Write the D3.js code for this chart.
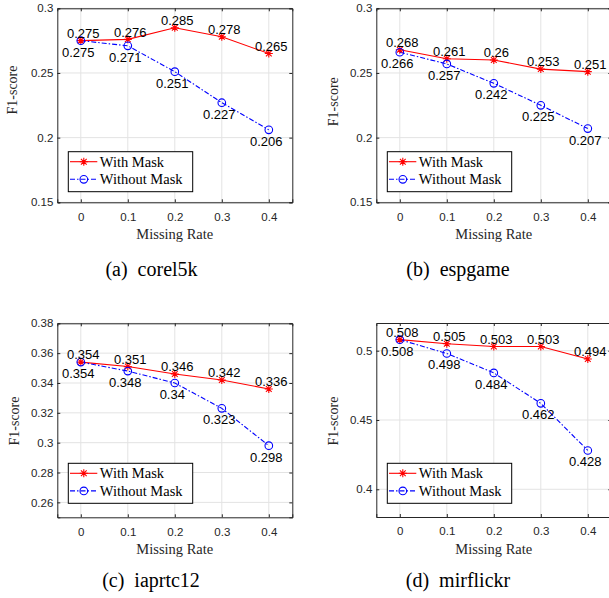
<!DOCTYPE html>
<html>
<head>
<meta charset="utf-8">
<script src="https://cdn.jsdelivr.net/npm/d3@7"></script>
<style>
  body { margin: 0; background: #fff; }
  .tick text { font-family: "Liberation Sans", Arial, sans-serif; font-size: 11.5px; fill: #262626; }
  .serif { font-family: "Liberation Serif", "Times New Roman", serif; fill: #262626; }
  .caption { font-family: "Liberation Serif", "Times New Roman", serif; font-size: 20px; fill: #000; }
  .vlabel { font-family: "Liberation Sans", Arial, sans-serif; font-size: 13px; fill: #000; }
</style>
</head>
<body>
<svg id="chart" width="609" height="598"></svg>
<script>
// data
const missingRate = [0, 0.1, 0.2, 0.3, 0.4];
const seriesNames = ['With Mask', 'Without Mask'];
const datasetNames = ['corel5k', 'espgame', 'iaprtc12', 'mirflickr'];
const panelTags = ['(a)', '(b)', '(c)', '(d)'];

const corel5kWith = [0.275, 0.276, 0.285, 0.278, 0.265];
const corel5kWithout = [0.275, 0.271, 0.251, 0.227, 0.206];
const espgameWith = [0.268, 0.261, 0.26, 0.253, 0.251];
const espgameWithout = [0.266, 0.257, 0.242, 0.225, 0.207];
const iaprtc12With = [0.354, 0.351, 0.346, 0.342, 0.336];
const iaprtc12Without = [0.354, 0.348, 0.34, 0.323, 0.298];
const mirflickrWith = [0.508, 0.505, 0.503, 0.503, 0.494];
const mirflickrWithout = [0.508, 0.498, 0.484, 0.462, 0.428];

const xDomain = [-0.05, 0.45];
const yDomains = [[0.15, 0.3], [0.15, 0.3], [0.25, 0.38], [0.38, 0.52]];
const yTickValues = [
  [0.15, 0.2, 0.25, 0.3],
  [0.15, 0.2, 0.25, 0.3],
  [0.26, 0.28, 0.3, 0.32, 0.34, 0.36, 0.38],
  [0.4, 0.45, 0.5],
];

const withMask = [corel5kWith, espgameWith, iaprtc12With, mirflickrWith];
const withoutMask = [corel5kWithout, espgameWithout, iaprtc12Without, mirflickrWithout];

// where each subplot sits on the page
const panels = [
  { left: 57.3, top: 8.3, ylabY: 90, ylabX: -40, legendTop: 151.7, capX: 151.5, capY: 276 },
  { left: 376.3, top: 8.3, ylabY: 101.7, ylabX: -38.5, legendTop: 151.7, capX: 458, capY: 276 },
  { left: 57.3, top: 323.3, ylabY: 421, ylabX: -38.5, legendTop: 463.3, capX: 151, capY: 587 },
  { left: 376.3, top: 323, ylabY: 421, ylabX: -38.5, legendTop: 463.3, capX: 458, capY: 587 },
];
const plotW = 235;
const plotH = 194;
const axisColor = '#262626';
const gridColor = '#e3e3e3';
const red = '#ff0000';
const blue = '#0000ff';

const svg = d3.select('#chart');

function asterisk(g, x, y, r, color) {
  const p = d3.path();
  const d = r * 0.72;
  p.moveTo(x - r, y); p.lineTo(x + r, y);
  p.moveTo(x, y - r); p.lineTo(x, y + r);
  p.moveTo(x - d, y - d); p.lineTo(x + d, y + d);
  p.moveTo(x - d, y + d); p.lineTo(x + d, y - d);
  g.append('path').attr('d', p.toString()).attr('stroke', color).attr('stroke-width', 1.1).attr('fill', 'none');
}

function circle(g, x, y, color) {
  g.append('circle').attr('cx', x).attr('cy', y).attr('r', 3.8)
    .attr('fill', 'none').attr('stroke', color).attr('stroke-width', 1.1);
}

function drawPanel(i) {
  const pos = panels[i];
  const x = d3.scaleLinear().domain(xDomain).range([0, plotW]);
  const y = d3.scaleLinear().domain(yDomains[i]).range([plotH, 0]);
  const g = svg.append('g').attr('transform', `translate(${pos.left},${pos.top})`);

  g.append('rect').attr('width', plotW).attr('height', plotH).attr('fill', '#fff');

  // grid
  g.append('g').selectAll('line').data(missingRate).enter().append('line')
    .attr('x1', d => x(d)).attr('x2', d => x(d)).attr('y1', 0).attr('y2', plotH)
    .attr('stroke', gridColor).attr('stroke-width', 1);
  g.append('g').selectAll('line').data(yTickValues[i]).enter().append('line')
    .attr('y1', d => y(d)).attr('y2', d => y(d)).attr('x1', 0).attr('x2', plotW)
    .attr('stroke', gridColor).attr('stroke-width', 1);

  // axes
  g.append('g').attr('transform', `translate(0,${plotH})`)
    .call(d3.axisBottom(x).tickValues(missingRate).tickFormat(d3.format('')).tickSize(-3).tickPadding(10.3));
  g.append('g')
    .call(d3.axisLeft(y).tickValues(yTickValues[i]).tickFormat(d => String(+d.toFixed(2))).tickSize(-3).tickPadding(4));
  g.append('g').call(d3.axisTop(x).tickValues(missingRate).tickFormat('').tickSize(-3));
  g.append('g').attr('transform', `translate(${plotW},0)`)
    .call(d3.axisRight(y).tickValues(yTickValues[i]).tickFormat('').tickSize(-3));
  g.selectAll('.domain').attr('stroke', axisColor);
  g.selectAll('.tick line').attr('stroke', axisColor);

  // series lines
  const line = d3.line().x((d, k) => x(missingRate[k])).y(d => y(d));
  g.append('path').datum(withMask[i]).attr('d', line)
    .attr('fill', 'none').attr('stroke', red).attr('stroke-width', 1.1);
  g.append('path').datum(withoutMask[i]).attr('d', line)
    .attr('fill', 'none').attr('stroke', blue).attr('stroke-width', 1.1)
    .attr('stroke-dasharray', '5,2,1.5,2');

  withMask[i].forEach((v, k) => asterisk(g, x(missingRate[k]), y(v), 4, red));
  withoutMask[i].forEach((v, k) => circle(g, x(missingRate[k]), y(v), blue));

  // value labels
  const lab = g.append('g').attr('text-anchor', 'middle');
  withMask[i].forEach((v, k) => {
    lab.append('text').attr('class', 'vlabel').attr('x', x(missingRate[k]) + 2.5).attr('y', y(v) - 2.7).text(String(v));
  });
  withoutMask[i].forEach((v, k) => {
    lab.append('text').attr('class', 'vlabel').attr('x', x(missingRate[k]) - 2.5).attr('y', y(v) + 16).text(String(v));
  });

  // axis titles
  g.append('text').attr('class', 'serif').attr('x', plotW / 2).attr('y', plotH + 37)
    .attr('text-anchor', 'middle').attr('font-size', 14.5).text('Missing Rate');
  g.append('text').attr('class', 'serif')
    .attr('transform', `translate(${pos.ylabX},${pos.ylabY - pos.top}) rotate(-90)`)
    .attr('text-anchor', 'middle').attr('font-size', 14).text('F1-score');

  // legend
  const lg = g.append('g').attr('transform', `translate(11,${pos.legendTop - pos.top})`);
  lg.append('rect').attr('width', 124.4).attr('height', 40)
    .attr('fill', '#fff').attr('stroke', '#000').attr('stroke-width', 1);
  const rows = [10, 27.6];
  lg.append('line').attr('x1', 1.7).attr('x2', 29).attr('y1', rows[0]).attr('y2', rows[0])
    .attr('stroke', red).attr('stroke-width', 1.1);
  asterisk(lg, 15.5, rows[0], 4, red);
  lg.append('line').attr('x1', 1.7).attr('x2', 29).attr('y1', rows[1]).attr('y2', rows[1])
    .attr('stroke', blue).attr('stroke-width', 1.1).attr('stroke-dasharray', '5,2,1.5,2');
  circle(lg, 15.5, rows[1], blue);
  seriesNames.forEach((name, k) => {
    lg.append('text').attr('class', 'serif').attr('x', 31.5).attr('y', rows[k] + 5)
      .attr('font-size', 14.5).style('fill', '#000').text(name);
  });

  // caption
  const cap = svg.append('text').attr('class', 'caption').attr('x', pos.capX).attr('y', pos.capY)
    .attr('text-anchor', 'middle');
  cap.append('tspan').text(panelTags[i]);
  cap.append('tspan').attr('dx', 10).text(datasetNames[i]);
}

datasetNames.forEach((d, i) => drawPanel(i));
</script>
</body>
</html>
